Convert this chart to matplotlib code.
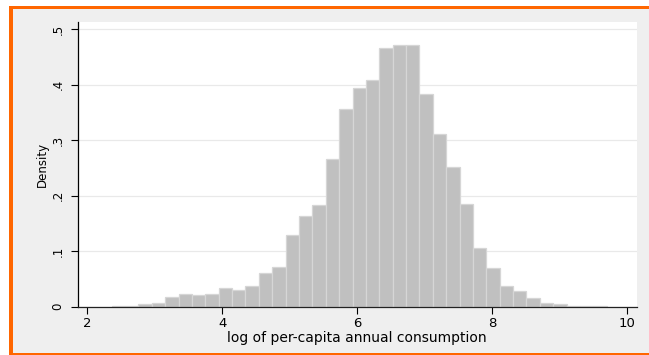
import matplotlib
matplotlib.use("Agg")
import matplotlib.pyplot as plt
from matplotlib.patches import Rectangle
import numpy as np

# ---- data ----
bin_left = 2.362      # left edge of first bin
bin_width = 0.1984    # width of each bin
density = [0.001, 0.001, 0.005, 0.006, 0.0175, 0.022, 0.021, 0.022,
           0.033, 0.031, 0.037, 0.060, 0.071, 0.129, 0.163, 0.183,
           0.266, 0.357, 0.395, 0.409, 0.466, 0.471, 0.471, 0.383,
           0.311, 0.251, 0.185, 0.106, 0.070, 0.037, 0.028, 0.015,
           0.006, 0.004, 0.002, 0.002, 0.001]
x_ticks = [2, 4, 6, 8, 10]
x_ticklabels = ["2", "4", "6", "8", "10"]
y_ticks = [0, 0.1, 0.2, 0.3, 0.4, 0.5]
y_ticklabels = ["0", ".1", ".2", ".3", ".4", ".5"]
x_label = "log of per-capita annual consumption"
y_label = "Density"

W, H = 649, 355
fig = plt.figure(figsize=(W / 100, H / 100), dpi=100, facecolor="white")

# orange frame and light-gray graph region (behind the axes)
fig.patches.append(Rectangle((9 / W, 0), 1 - 9 / W, (H - 6) / H,
                             transform=fig.transFigure, facecolor="#ff6600",
                             edgecolor="none", zorder=-10))
fig.patches.append(Rectangle((13 / W, (H - 352.7) / H), 1 - 13 / W, (352.7 - 9) / H,
                             transform=fig.transFigure, facecolor="#efefef",
                             edgecolor="none", zorder=-9))

ax = fig.add_axes([77.5 / W, 1 - 306.7 / H, (637 - 77.5) / W, (306.7 - 22) / H])
ax.set_zorder(1)
ax.set_facecolor("white")

edges = bin_left + bin_width * np.arange(len(density))
ax.bar(edges, density, width=bin_width, align="edge", color="#c0c0c0",
       edgecolor="#d6d6d6", linewidth=0.9, zorder=2)

ax.set_xlim(1.855, 10.152)
ax.set_ylim(0, 0.5132)

ax.set_yticks(y_ticks)
ax.set_yticklabels(y_ticklabels, rotation=90, va="center", fontsize=8.5)
ax.set_xticks(x_ticks)
ax.set_xticklabels(x_ticklabels, fontsize=9.5)

ax.grid(axis="y", color="#e9e9e9", linewidth=0.9)
ax.set_axisbelow(True)

for s in ["top", "right"]:
    ax.spines[s].set_visible(False)
ax.spines["left"].set_color("black")
ax.spines["bottom"].set_color("#222222")
ax.spines["left"].set_linewidth(0.9)
ax.spines["bottom"].set_linewidth(0.9)
ax.spines["left"].set_zorder(3)
ax.spines["bottom"].set_zorder(3)

ax.tick_params(axis="y", direction="out", length=5, width=0.8, pad=4.5)
ax.tick_params(axis="x", direction="out", length=5, width=0.8, pad=2.5)

ax.set_xlabel(x_label, fontsize=10, labelpad=0.5)
ax.set_ylabel(y_label, fontsize=8.5, labelpad=1.5)

fig.savefig("out.png", dpi=100, facecolor=fig.get_facecolor())
